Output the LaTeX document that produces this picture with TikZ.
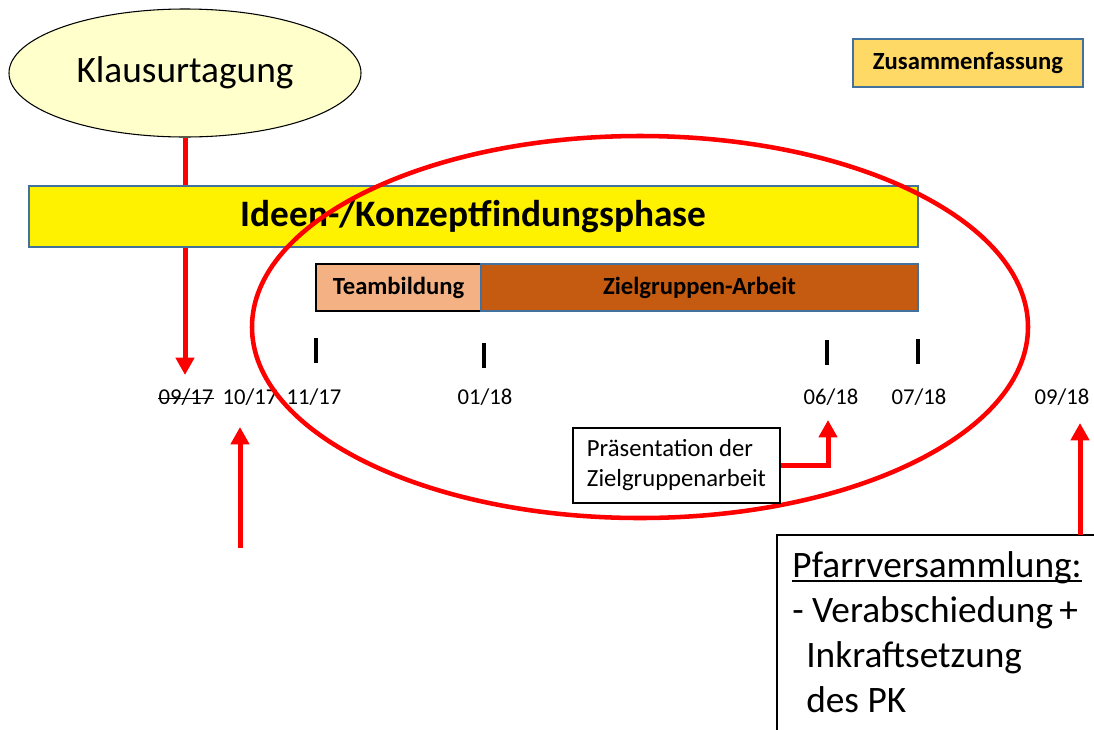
\documentclass[tikz,border=0pt]{standalone}
\usepackage{fontspec}
\setmainfont{Carlito}
\usetikzlibrary{arrows.meta,shapes.geometric}
\definecolor{pptblue}{HTML}{41719C}
\definecolor{lightyel}{HTML}{FFFFCC}
\definecolor{teamfill}{HTML}{F4B183}
\definecolor{zielfill}{HTML}{C55A11}
\definecolor{zusfill}{HTML}{FFD966}
\tikzset{
  redarrow/.style={draw=red, line width=3.75pt, -{Triangle[width=13.5pt,length=13pt]}},
  datelbl/.style={inner sep=0pt, anchor=base, font=\fontsize{17}{20}\selectfont},
  tickmark/.style={line width=3pt, black},
  barbox/.style={draw=pptblue, line width=0.8pt, inner sep=0pt},
  pftext/.style={inner sep=0pt, anchor=base west, font=\fontsize{28}{33}\selectfont},
}
\begin{document}
\begin{tikzpicture}[x=0.75pt,y=-0.75pt]
\useasboundingbox (0,0) rectangle (1094,729);
\clip (0,0) rectangle (1094,729);
\fill[white] (0,0) rectangle (1094,729);

% Klausurtagung
\node[ellipse, draw=black, line width=0.8pt, fill=lightyel, minimum width=264pt, minimum height=96pt, inner sep=0pt,
      font=\fontsize{28}{32}\selectfont] (kl) at (185,73) {Klausurtagung};
\coordinate (tip0917) at (185,375);
\draw[redarrow] (kl.south) -- (tip0917);

% Ideen bar
\node[barbox, fill=yellow, minimum width=666.75pt, minimum height=45.75pt, font=\fontsize{28}{33}\selectfont\bfseries]
  (ideen) at (473.5,216.5) {Ideen-/Konzeptfindungsphase};

% Team / Ziel
\node[draw=black, line width=0.8pt, fill=teamfill, inner sep=0pt, minimum width=123.75pt, minimum height=35.25pt,
      font=\fontsize{18.5}{21}\selectfont\bfseries] (team) at (398.5,287.5) {Teambildung};
\node[barbox, fill=zielfill, minimum width=327.75pt, minimum height=35.25pt,
      font=\fontsize{18.5}{21}\selectfont\bfseries] (ziel) at (699.5,287.5) {Zielgruppen-Arbeit};

% Zusammenfassung
\node[barbox, fill=zusfill, minimum width=172.5pt, minimum height=36pt,
      font=\fontsize{18.5}{21}\selectfont\bfseries] (zus) at (968,63) {Zusammenfassung};

% ticks
\draw[tickmark] (316,338) -- (316,363);
\draw[tickmark] (484,343) -- (484,368);
\draw[tickmark] (827,340) -- (827,365);
\draw[tickmark] (918,339) -- (918,364);

% dates
\node[datelbl] (d0917) at (186,404) {09/17};
\draw[line width=0.6pt] ([yshift=4.5pt]d0917.base west) -- ([yshift=4.5pt]d0917.base east);
\node[datelbl] (d1017) at (250,404) {10/17};
\node[datelbl] (d1117) at (314,404) {11/17};
\node[datelbl] (d0118) at (485,404) {01/18};
\node[datelbl] (d0618) at (831,404) {06/18};
\node[datelbl] (d0718) at (919,404) {07/18};
\node[datelbl] (d0918) at (1062,404) {09/18};

% red ellipse
\draw[red, line width=3.4pt] (640,327) ellipse [x radius=291pt, y radius=143.25pt];

% 10/17 arrow
\coordinate (s1017) at (240,548);
\coordinate (tip1017) at (240,427);
\draw[redarrow] (s1017) -- (tip1017);

% Praesentation
\node[draw=black, line width=0.8pt, fill=white, minimum width=155.25pt, minimum height=56.25pt, inner sep=0pt,
      align=left, font=\fontsize{18.5}{22.5}\selectfont] (pres) at (676.5,465.5) {Präsentation der\\Zielgruppenarbeit};
\coordinate (tip0618) at (828,420);
\draw[redarrow] (pres.east) -| (tip0618);

% Pfarrversammlung
\node[draw=black, line width=0.8pt, fill=white, minimum width=242.25pt, minimum height=153.75pt, inner sep=0pt]
  (pfarr) at (938.5,637.5) {};
\coordinate (s0918) at (1080,535);
\coordinate (tip0918) at (1080,423);
\draw[redarrow] (s0918) -- (tip0918);
\node[pftext] (pf1) at (792,577) {Pfarrversammlung:};
\draw[line width=1pt] ([yshift=-3pt]pf1.base west) -- ([yshift=-3pt]pf1.base east);
\node[pftext] (pf2) at (792,622) {- Verabschiedung\,+};
\node[pftext] (pf3) at (806,667) {Inkraftsetzung};
\node[pftext] (pf4) at (806,712) {des PK};
\end{tikzpicture}
\end{document}
